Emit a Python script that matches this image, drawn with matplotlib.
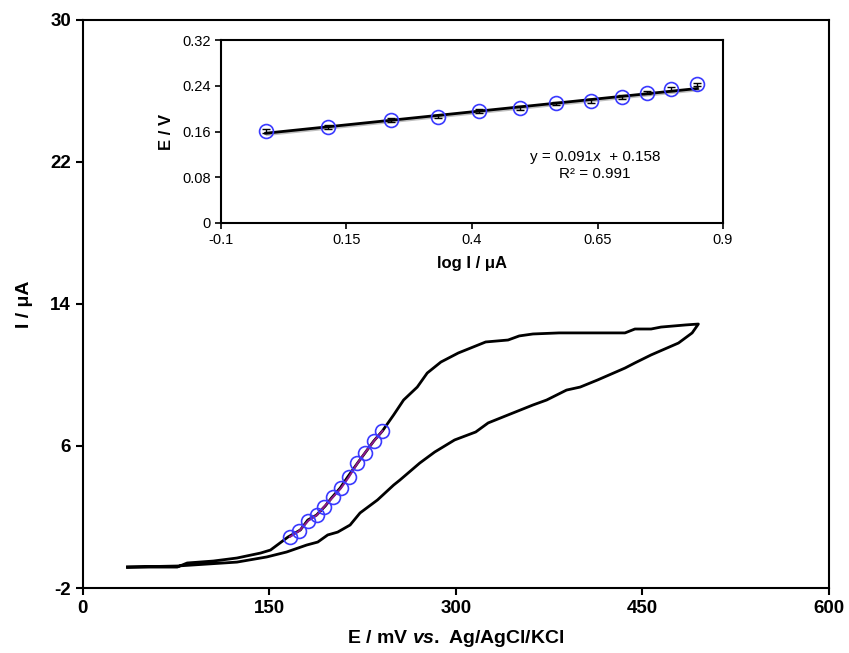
import numpy as np
import matplotlib
matplotlib.use("Agg")
import matplotlib.pyplot as plt
import matplotlib.patheffects as pe

plt.rcParams['font.family'] = ['Liberation Sans', 'DejaVu Sans']
plt.rcParams['axes.unicode_minus'] = False
plt.rcParams['mathtext.fontset'] = 'custom'
plt.rcParams['mathtext.it'] = 'Liberation Sans:italic:bold'
plt.rcParams['mathtext.rm'] = 'Liberation Sans:bold'

# CV curve, forward branch (mV, uA)
E_fwd = [36, 76, 84, 105, 124, 143, 151, 165, 175, 181, 188, 195, 200, 207, 213,
         221, 227, 234, 241, 250, 258, 269, 277, 288, 302, 324, 342, 351, 362,
         383, 436, 444, 457, 465, 485, 495]
I_fwd = [-0.82, -0.82, -0.59, -0.48, -0.31, -0.03, 0.14, 0.87, 1.27, 1.83, 2.11,
         2.62, 3.07, 3.63, 4.25, 5.04, 5.61, 6.28, 6.85, 7.75, 8.59, 9.32, 10.11,
         10.73, 11.24, 11.86, 11.97, 12.20, 12.31, 12.37, 12.37, 12.59, 12.59,
         12.70, 12.82, 12.87]
# reverse branch
E_rev = [490, 479, 457, 444, 436, 414, 400, 389, 373, 362, 342, 326, 316, 299,
         283, 271, 255, 250, 237, 223, 215, 205, 197, 189, 180, 164, 148, 124,
         100, 76, 36]
I_rev = [12.37, 11.80, 11.13, 10.68, 10.39, 9.72, 9.32, 9.15, 8.59, 8.31, 7.75,
         7.30, 6.79, 6.34, 5.66, 5.04, 4.08, 3.80, 2.96, 2.23, 1.55, 1.15, 0.99,
         0.59, 0.42, 0.03, -0.25, -0.54, -0.65, -0.76, -0.82]

# points used for the Tafel-type analysis
E_pts = [166.8, 174.3, 181.5, 188.3, 194.1, 201.1, 207.6, 213.9, 220.9, 227.1, 234.4, 241.0]
I_pts = [0.89, 1.23, 1.80, 2.11, 2.58, 3.11, 3.62, 4.24, 5.03, 5.63, 6.30, 6.85]

# inset: E vs log I
logI = [-0.011, 0.113, 0.239, 0.333, 0.414, 0.496, 0.568, 0.637, 0.698, 0.749, 0.797, 0.849]
E_V = [0.1606, 0.1676, 0.180, 0.186, 0.1956, 0.2015, 0.209, 0.2137, 0.2207, 0.228, 0.2347, 0.2423]
E_err = [0.003] * 12
slope, intercept = 0.091, 0.158

fig = plt.figure(figsize=(8.49, 6.53), dpi=100)
ax = fig.add_axes([0.0974, 0.0995, 0.879, 0.870])

E_all = E_fwd + E_rev
I_all = I_fwd + I_rev
ax.plot(E_all, I_all, color='black', lw=2)
ax.plot(E_pts, I_pts, color='#8b1a8b', lw=1.5, marker='o', ms=10,
        mfc='none', mec='#3a3aff', mew=1.2)

ax.set_xlim(0, 600)
ax.set_ylim(-2, 30)
ax.set_xticks([0, 150, 300, 450, 600])
ax.set_yticks([-2, 6, 14, 22, 30])
ax.tick_params(direction='out', length=5, width=1.5, labelsize=13.5)
for lab in ax.get_xticklabels() + ax.get_yticklabels():
    lab.set_fontweight('bold')
for s in ax.spines.values():
    s.set_linewidth(1.5)
ax.set_xlabel(r'E / mV $\it{vs.}$ Ag/AgCl/KCl', fontsize=14, fontweight='bold', labelpad=8)
ax.set_ylabel('I / μA', fontsize=14, fontweight='bold', labelpad=12)

# inset
ins = fig.add_axes([0.2603, 0.6585, 0.5913, 0.2802])
xfit = np.array([logI[0], logI[-1]])
ins.plot(xfit, slope * xfit + intercept, color='black', lw=2,
         path_effects=[pe.SimpleLineShadow(offset=(1, -1), alpha=0.25), pe.Normal()])
ins.errorbar(logI, E_V, yerr=E_err, fmt='none', ecolor='black', capsize=3, elinewidth=1)
ins.plot(logI, E_V, 'o', ms=10, mfc='none', mec='#3a3aff', mew=1.2)
ins.set_xlim(-0.1, 0.9)
ins.set_ylim(0, 0.32)
ins.set_xticks([-0.1, 0.15, 0.4, 0.65, 0.9])
ins.set_xticklabels(['-0.1', '0.15', '0.4', '0.65', '0.9'])
ins.set_yticks([0, 0.08, 0.16, 0.24, 0.32])
ins.set_yticklabels(['0', '0.08', '0.16', '0.24', '0.32'])
ins.tick_params(direction='out', length=4, width=1.2, labelsize=10.5)
for s in ins.spines.values():
    s.set_linewidth(1.5)
ins.set_xlabel('log I / μA', fontsize=12, fontweight='bold', labelpad=6)
ins.set_ylabel('E / V', fontsize=12, fontweight='bold', labelpad=6)
ins.text(0.645, 0.115, 'y = 0.091x  + 0.158', fontsize=11, ha='center', va='center')
ins.text(0.645, 0.085, 'R² = 0.991', fontsize=11, ha='center', va='center')

fig.savefig('out.png', dpi=100)
